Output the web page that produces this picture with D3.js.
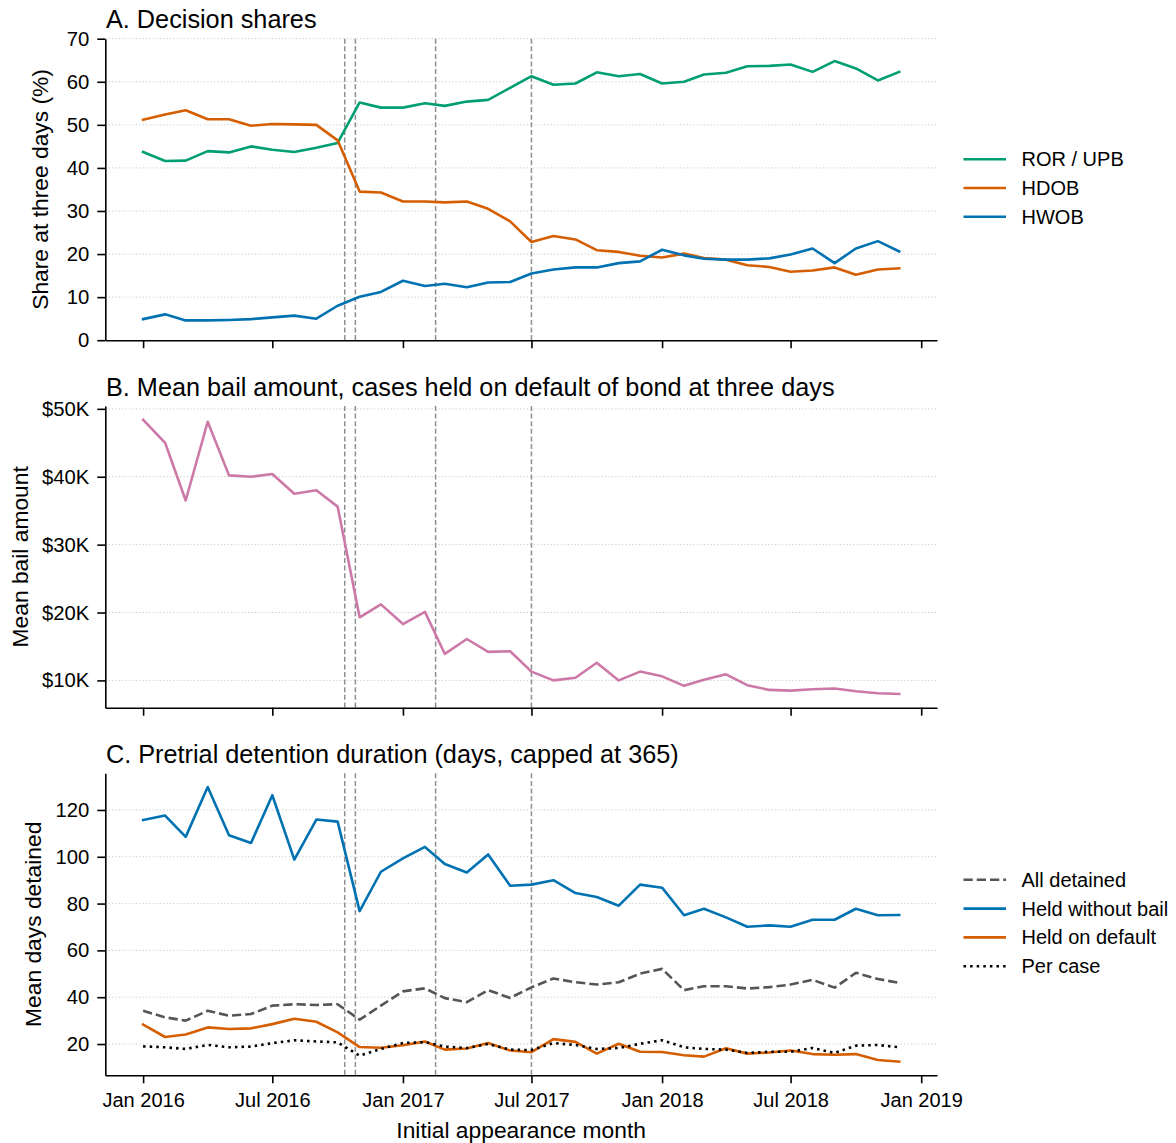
<!DOCTYPE html>
<html>
<head>
<meta charset="utf-8">
<script src="https://cdn.jsdelivr.net/npm/d3@7"></script>
<style>
  html, body { margin: 0; padding: 0; background: #fff; }
  svg { display: block; font-family: "Liberation Sans", Arial, sans-serif; }
</style>
</head>
<body>
<svg id="chart" width="1176" height="1143"></svg>
<script>
// ---------- DATA ----------
const months = [
  "2016-01","2016-02","2016-03","2016-04","2016-05","2016-06","2016-07","2016-08","2016-09","2016-10","2016-11","2016-12",
  "2017-01","2017-02","2017-03","2017-04","2017-05","2017-06","2017-07","2017-08","2017-09","2017-10","2017-11","2017-12",
  "2018-01","2018-02","2018-03","2018-04","2018-05","2018-06","2018-07","2018-08","2018-09","2018-10","2018-11","2018-12"
];
// Panel A: decision shares at three days (%)
const rorUpb = [43.7,41.6,41.7,43.9,43.6,45.0,44.2,43.7,44.7,45.8,55.2,54.0,
                54.0,55.0,54.4,55.4,55.8,58.6,61.3,59.3,59.6,62.2,61.3,61.8,
                59.6,60.0,61.7,62.1,63.6,63.7,64.0,62.3,64.8,63.1,60.3,62.3];
const hdob   = [51.2,52.4,53.4,51.3,51.3,49.8,50.2,50.1,50.0,46.4,34.5,34.3,
                32.2,32.2,32.0,32.2,30.5,27.6,22.8,24.2,23.4,20.9,20.5,19.6,
                19.2,20.1,19.1,18.7,17.4,17.0,15.9,16.2,16.9,15.2,16.4,16.7];
const hwob   = [4.9,6.0,4.6,4.6,4.7,4.9,5.3,5.7,5.0,8.0,10.1,11.2,
                13.8,12.6,13.1,12.3,13.4,13.5,15.5,16.4,16.9,16.9,17.9,18.3,
                21.0,19.7,18.9,18.7,18.7,19.0,19.9,21.3,17.9,21.3,23.0,20.6];
// Panel B: mean bail amount (thousands of dollars)
const meanBail = [48.4,45.0,36.5,48.1,40.2,40.0,40.4,37.5,38.0,35.6,19.3,21.2,
                  18.3,20.1,13.9,16.1,14.2,14.3,11.3,10.0,10.4,12.6,10.0,11.3,
                  10.6,9.2,10.1,10.9,9.3,8.6,8.5,8.7,8.8,8.4,8.1,8.0];
// Panel C: mean days detained
const allDetained   = [34.2,31.4,30.0,34.2,32.1,32.8,36.4,37.0,36.7,37.0,30.4,36.4,
                       42.5,43.8,39.6,37.9,43.0,39.7,44.2,48.0,46.4,45.4,46.4,50.1,
                       52.1,43.0,44.7,44.7,43.7,44.3,45.4,47.4,44.1,50.4,47.8,46.1];
const heldNoBail    = [115.7,117.6,108.5,129.8,109.2,105.9,126.3,98.8,115.9,115.0,76.8,93.6,
                       99.3,104.2,96.9,93.3,101.0,87.6,88.1,90.0,84.5,82.8,79.1,88.1,
                       86.8,75.0,77.8,74.1,70.1,70.7,70.1,73.1,73.1,77.8,75.0,75.1];
const heldOnDefault = [28.3,23.0,24.1,27.1,26.4,26.7,28.5,30.8,29.5,25.0,18.7,18.4,
                       19.5,21.1,17.6,18.1,20.4,17.2,16.5,22.1,20.9,15.9,20.1,16.7,
                       16.6,15.2,14.6,18.2,15.9,16.4,17.2,15.7,15.4,15.7,13.2,12.5];
const perCase       = [19.0,18.6,17.9,19.6,18.6,18.9,20.4,21.6,21.1,20.7,15.0,17.9,
                       20.4,20.8,18.9,18.3,20.0,17.6,17.4,20.4,19.6,17.9,18.3,20.1,
                       21.6,18.6,17.9,17.6,16.2,16.7,16.7,18.3,16.2,19.3,19.6,18.6];
// Policy event dates (vertical reference lines)
const eventDates = ["2016-10-11","2016-10-26","2017-02-16","2017-07-01"];
// Tick labels
const xTickDates = ["2016-01-01","2016-07-01","2017-01-01","2017-07-01","2018-01-01","2018-07-01","2019-01-01"];
const yTicksA = [0,10,20,30,40,50,60,70];
const yTicksB = [10,20,30,40,50];
const yTicksC = [20,40,60,80,100,120];

const titles = ["A. Decision shares",
                "B. Mean bail amount, cases held on default of bond at three days",
                "C. Pretrial detention duration (days, capped at 365)"];
const yLabels = ["Share at three days (%)","Mean bail amount","Mean days detained"];
const xLabel = "Initial appearance month";

const seriesA = [
  {name:"ROR / UPB", values:rorUpb, color:"#009E73", dash:null},
  {name:"HDOB", values:hdob, color:"#D55E00", dash:null},
  {name:"HWOB", values:hwob, color:"#0072B2", dash:null}
];
const seriesB = [{name:"Mean bail", values:meanBail, color:"#CC79A7", dash:null}];
const seriesC = [
  {name:"All detained", values:allDetained, color:"#555555", dash:"9.25,4"},
  {name:"Held without bail", values:heldNoBail, color:"#0072B2", dash:null},
  {name:"Held on default", values:heldOnDefault, color:"#D55E00", dash:null},
  {name:"Per case", values:perCase, color:"#000000", dash:"2.5,4.1"}
];

// ---------- LAYOUT ----------
const svg = d3.select("#chart");
const parse = d3.utcParse("%Y-%m");
const parseDay = d3.utcParse("%Y-%m-%d");
const dates = months.map(parse);
const left = 105.3, right = 937;
const panels = [
  {top:38.7, bottom:340.2},
  {top:406.0, bottom:707.7},
  {top:773.3, bottom:1075.3}
];

// x scale with matplotlib-like 5% margins
const t0 = dates[0].getTime(), t1 = dates[dates.length-1].getTime();
const padT = (t1 - t0) * 0.05;
const x = d3.scaleUtc().domain([new Date(t0 - padT), new Date(t1 + padT)]).range([left, right]);

function padExtent(arrs) {
  const all = arrs.flat();
  const mn = d3.min(all), mx = d3.max(all);
  const p = (mx - mn) * 0.05;
  return [mn - p, mx + p];
}

const yScales = [
  d3.scaleLinear().domain([0,70]).range([panels[0].bottom, panels[0].top]),
  d3.scaleLinear().domain(padExtent([meanBail])).range([panels[1].bottom, panels[1].top]),
  d3.scaleLinear().domain(padExtent(seriesC.map(s=>s.values))).range([panels[2].bottom, panels[2].top])
];
const yTicks = [yTicksA, yTicksB, yTicksC];
const yFormats = [d3.format("d"), v => "$" + v + "K", d3.format("d")];
const seriesAll = [seriesA, seriesB, seriesC];
const yLabelX = [48.3, 28.3, 41.3];

panels.forEach((p, i) => {
  const y = yScales[i];
  const g = svg.append("g");

  // grid
  g.append("g").selectAll("line").data(yTicks[i].filter(v => v > y.domain()[0] && v !== 0)).join("line")
    .attr("x1", left).attr("x2", right)
    .attr("y1", d => y(d)).attr("y2", d => y(d))
    .attr("stroke", "#c4c4c4").attr("stroke-width", 0.9).attr("stroke-dasharray", "1.2,2.2");

  // vertical event lines
  g.append("g").selectAll("line").data(eventDates.map(parseDay)).join("line")
    .attr("x1", d => x(d)).attr("x2", d => x(d))
    .attr("y1", p.top).attr("y2", p.bottom)
    .attr("stroke", "#8f8f8f").attr("stroke-width", 1.5).attr("stroke-dasharray", "5,2.6");

  // lines
  const line = d3.line().x((d, j) => x(dates[j])).y(d => y(d));
  seriesAll[i].forEach(s => {
    g.append("path").datum(s.values)
      .attr("d", line)
      .attr("fill", "none")
      .attr("stroke", s.color)
      .attr("stroke-width", 2.6)
      .attr("stroke-linejoin", "round")
      .attr("stroke-linecap", s.dash ? "butt" : "square")
      .attr("stroke-dasharray", s.dash);
  });

  // y axis
  const ya = g.append("g").attr("transform", `translate(${left},0)`)
    .call(d3.axisLeft(y).tickValues(yTicks[i]).tickFormat(yFormats[i]).tickSize(8).tickPadding(8).tickSizeOuter(0));
  ya.select(".domain").attr("stroke", "#000").attr("stroke-width", 1.6);
  ya.selectAll(".tick line").attr("stroke", "#000").attr("stroke-width", 1.6);
  ya.selectAll(".tick text").attr("font-size", 20.3).attr("fill", "#000")
    .attr("font-family", "Liberation Sans, Arial, sans-serif");

  // x axis
  const xa = g.append("g").attr("transform", `translate(0,${p.bottom})`)
    .call(d3.axisBottom(x).tickValues(xTickDates.map(parseDay)).tickFormat(i === 2 ? d3.utcFormat("%b %Y") : () => "")
      .tickSize(8).tickPadding(10).tickSizeOuter(0));
  xa.select(".domain").attr("stroke", "#000").attr("stroke-width", 1.6);
  xa.selectAll(".tick line").attr("stroke", "#000").attr("stroke-width", 1.6);
  xa.selectAll(".tick text").attr("font-size", 20).attr("fill", "#000")
    .attr("font-family", "Liberation Sans, Arial, sans-serif");

  // title
  svg.append("text").attr("x", 106).attr("y", p.top - 10.4)
    .attr("font-size", 25.25).attr("fill", "#000").text(titles[i]);

  // y label
  const cy = (p.top + p.bottom) / 2;
  svg.append("text").attr("transform", `translate(${yLabelX[i]},${cy}) rotate(-90)`)
    .attr("text-anchor", "middle").attr("font-size", 22.8).attr("fill", "#000").text(yLabels[i]);
});

// x label
svg.append("text").attr("x", (left + right) / 2).attr("y", 1138)
  .attr("text-anchor", "middle").attr("font-size", 22.8).attr("fill", "#000").text(xLabel);

// legends
function legend(series, cy) {
  const step = 28.8;
  const n = series.length;
  const y0 = cy - (n - 1) * step / 2;
  const lg = svg.append("g");
  series.forEach((s, k) => {
    const yy = y0 + k * step;
    lg.append("line").attr("x1", 963.5).attr("x2", 1006).attr("y1", yy).attr("y2", yy)
      .attr("stroke", s.color).attr("stroke-width", 2.6)
      .attr("stroke-dasharray", s.dash).attr("stroke-linecap", "butt");
    lg.append("text").attr("x", 1021.5).attr("y", yy + 7).attr("font-size", 20)
      .attr("fill", "#000").text(s.name);
  });
}
legend(seriesA, 188);
legend(seriesC, 923);
</script>
</body>
</html>
